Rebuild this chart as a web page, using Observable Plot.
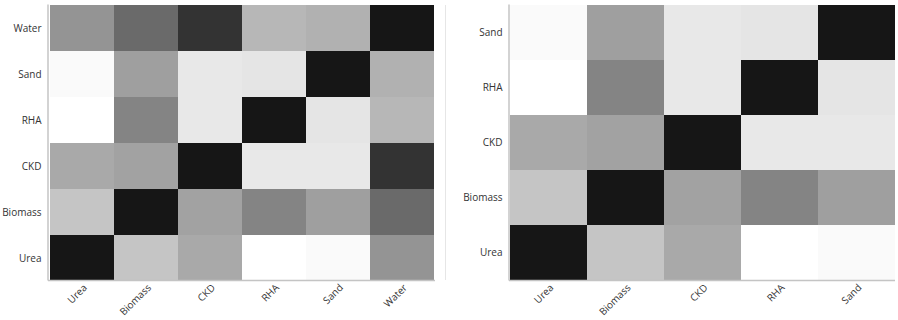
<!DOCTYPE html>
<html><head><meta charset="utf-8">
<script src="https://cdn.jsdelivr.net/npm/d3@7"></script>
<script src="https://cdn.jsdelivr.net/npm/@observablehq/plot@0.6"></script>
<style>
body{margin:0;background:#fff;}
#wrap{position:relative;width:898px;height:320px;overflow:hidden;}
#left{position:absolute;left:0;top:0;}
#right{position:absolute;left:448px;top:0;}
#sep{position:absolute;left:445px;top:5px;width:1px;height:275px;background:#e6e6e6;}
</style></head><body>
<div id="wrap"><div id="left"></div><div id="sep"></div><div id="right"></div></div>
<script>
// Categories
const materials6 = ["Urea","Biomass","CKD","RHA","Sand","Water"];
const materials5 = ["Urea","Biomass","CKD","RHA","Sand"];
// Matrix values (row order follows materials6, columns follow materials6)
const rowUrea    = [1.00, 0.25, 0.37, 0.00, 0.02, 0.46];
const rowBiomass = [0.25, 1.00, 0.40, 0.53, 0.41, 0.64];
const rowCKD     = [0.37, 0.40, 1.00, 0.10, 0.10, 0.875];
const rowRHA     = [0.00, 0.53, 0.10, 1.00, 0.11, 0.31];
const rowSand    = [0.02, 0.41, 0.10, 0.11, 1.00, 0.335];
const rowWater   = [0.46, 0.64, 0.875, 0.31, 0.335, 1.00];

const rows = {Urea: rowUrea, Biomass: rowBiomass, CKD: rowCKD, RHA: rowRHA, Sand: rowSand, Water: rowWater};

function tableFor(cats) {
  const out = [];
  for (const r of cats) {
    cats.forEach((c) => {
      out.push({row: r, col: c, value: rows[r][materials6.indexOf(c)]});
    });
  }
  return out;
}

function heatmap(cats, opts) {
  const data = tableFor(cats);
  const plot = Plot.plot({
    width: opts.width,
    height: 320,
    marginLeft: opts.marginLeft,
    marginRight: opts.marginRight,
    marginTop: 4.5,
    marginBottom: 39.5,
    style: {fontFamily: "'Open Sans', sans-serif", fontSize: "10px", color: "#333", background: "transparent"},
    x: {domain: cats, padding: 0, label: null},
    y: {domain: cats.slice().reverse(), padding: 0, label: null},
    color: {type: "linear", domain: [0, 1], range: ["#ffffff", "#161616"], interpolate: "rgb"},
    marks: [
      Plot.cell(data, {x: "col", y: "row", fill: "value"}),
      Plot.axisY({tickSize: 0, tickPadding: 7, label: null}),
      Plot.axisX({tickSize: 0, tickPadding: 6, tickRotate: -45, label: null, dx: 3, dy: -1})
    ]
  });
  const sx = plot.scale("x").range, sy = plot.scale("y").range;
  const svg = d3.select(plot);
  const x0 = Math.min(...sx), x1 = Math.max(...sx);
  const y0 = Math.min(...sy), y1 = Math.max(...sy);
  svg.append("line").attr("x1", x0).attr("x2", x0).attr("y1", y0).attr("y2", y1)
    .attr("stroke", "#c4c4c4").attr("stroke-width", 1.5);
  svg.append("line").attr("x1", x0).attr("x2", x1).attr("y1", y1).attr("y2", y1)
    .attr("stroke", "#c4c4c4").attr("stroke-width", 1.5);
  return plot;
}

document.getElementById("left").appendChild(heatmap(materials6, {width: 445, marginLeft: 48, marginRight: 10}));
document.getElementById("right").appendChild(heatmap(materials5, {width: 450, marginLeft: 61, marginRight: 3}));
</script>
</body></html>
